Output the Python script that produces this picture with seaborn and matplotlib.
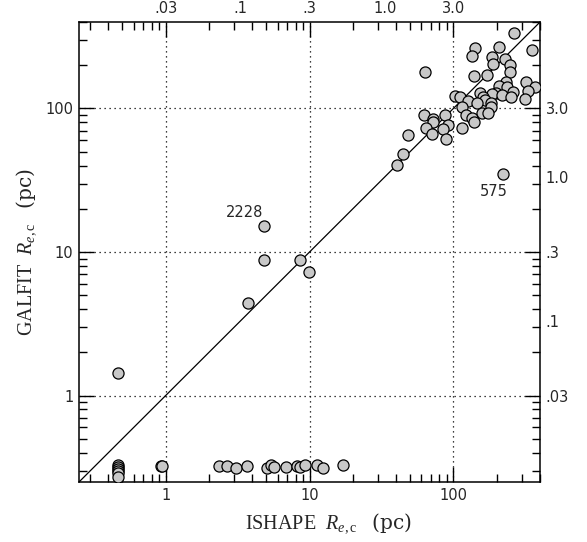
import numpy as np
import pandas as pd
import matplotlib
matplotlib.use("Agg")
import matplotlib.pyplot as plt
from matplotlib.ticker import NullLocator, FuncFormatter, LogLocator, NullFormatter
import seaborn as sns

# Effective radii (pc) of clusters measured by both methods
ishape_rec = [264, 351, 208, 141, 135, 184, 229, 187, 248, 249, 63, 171, 140, 317,
              232, 206, 367, 237, 328, 259, 154, 197, 185, 217, 250, 160, 103, 112,
              167, 312, 127, 145, 183, 115, 182, 158, 174, 123, 134, 139, 62.3, 71.6,
              71.9, 86.9, 91.6, 65.0, 84.1, 71.3, 115, 48.2, 88.2, 44.5, 40.4, 221,
              4.85, 4.85, 8.56, 9.98, 3.75, 0.47]
galfit_rec = [337, 256, 267, 262, 232, 227, 220, 205, 201, 179, 180, 171, 167, 154,
              154, 143, 142, 140, 132, 131, 129, 129, 127, 124, 121, 120, 122, 120,
              115, 116, 112, 109, 109, 102, 102, 92.6, 92.6, 90.1, 85.5, 80.9, 90.1, 84.1,
              80.5, 90.1, 76.7, 73.5, 72.0, 66.4, 72.8, 65.0, 61.3, 48.2, 40.2, 35.1,
              15.2, 8.80, 8.80, 7.29, 4.43, 1.43]

# Objects left unresolved by GALFIT (plotted at the lower limit)
ishape_unres = [0.465, 0.465, 0.465, 0.465, 0.465, 0.465, 0.93, 0.95,
                2.34, 2.65, 3.06, 3.69, 5.04, 5.37, 5.66, 6.87, 8.15, 8.6, 9.31,
                11.2, 12.5, 17.2]
galfit_unres = [0.328, 0.318, 0.307, 0.298, 0.288, 0.272, 0.323, 0.323,
                0.323, 0.323, 0.314, 0.323, 0.314, 0.328, 0.318, 0.318, 0.323, 0.318, 0.328,
                0.328, 0.314, 0.328]

# Named objects
label_ids = ["2228", "575"]
label_x = [4.85, 221]
label_y = [15.2, 35.1]

# Angular scale labels (arcsec) on the top and right axes
arcsec_ticks = [0.03, 0.1, 0.3, 1.0, 3.0]
arcsec_labels = [".03", ".1", ".3", "1.0", "3.0"]
PC_TO_ARCSEC = 0.03

sns.set_style("ticks")
plt.rcParams["font.family"] = ["DejaVu Sans"]
plt.rcParams["mathtext.fontset"] = "custom"
plt.rcParams["mathtext.rm"] = "Liberation Serif"
plt.rcParams["mathtext.it"] = "Liberation Serif:italic"
plt.rcParams["mathtext.sf"] = "DejaVu Serif"

df = pd.DataFrame({
    "ishape": ishape_rec + ishape_unres,
    "galfit": galfit_rec + galfit_unres,
})

fig = plt.figure(figsize=(5.87, 5.42), dpi=100)
ax = fig.add_axes([0.1346, 0.1107, 0.7854, 0.8487])
ax.set_xscale("log")
ax.set_yscale("log")
ax.set_xlim(0.25, 400)
ax.set_ylim(0.25, 400)

ax.grid(True, which="major", color="black", linestyle=(0, (1, 3)), linewidth=0.9)
ax.axline((1, 1), (100, 100), color="black", linewidth=0.9, zorder=2)

sns.scatterplot(data=df, x="ishape", y="galfit", ax=ax, s=64,
                color="#c8c8c8", edgecolor="black", linewidth=0.9, zorder=3,
                legend=False)

for name, x, y, off in zip(label_ids, label_x, label_y, [(-14, 9.5), (-6.5, -13)]):
    ax.annotate(name, (x, y), xytext=off, textcoords="offset points",
                ha="center", va="center", fontsize=10.5)

fmt = FuncFormatter(lambda v, p: f"{v:g}")
for axis in (ax.xaxis, ax.yaxis):
    axis.set_major_locator(LogLocator(base=10))
    axis.set_major_formatter(fmt)
    axis.set_minor_locator(LogLocator(base=10, subs=np.arange(2, 10)))
    axis.set_minor_formatter(NullFormatter())

ax.tick_params(which="both", direction="in", top=True, right=True,
               labelsize=10.5, width=1.0, color="black")
ax.tick_params(which="major", length=11, pad=4)
ax.tick_params(which="minor", length=6)
for sp in ax.spines.values():
    sp.set_linewidth(1.1)
    sp.set_color("black")

to_arc = (lambda v: v * PC_TO_ARCSEC, lambda v: v / PC_TO_ARCSEC)
secx = ax.secondary_xaxis("top", functions=to_arc)
secy = ax.secondary_yaxis("right", functions=to_arc)
for sec in (secx, secy):
    sec.tick_params(length=0, pad=4, labelsize=10.5)
    for sp in sec.spines.values():
        sp.set_visible(False)
secx.set_xticks(arcsec_ticks, arcsec_labels)
secy.set_yticks(arcsec_ticks, arcsec_labels)
secx.xaxis.set_minor_locator(NullLocator())
secy.yaxis.set_minor_locator(NullLocator())

label_font = dict(family="Liberation Serif", fontsize=14.5)
ax.set_xlabel("ISHAPE  " + r"$R_{e,\mathrm{c}}$" + "   " + r"$\mathsf{(pc)}$", **label_font)
ax.set_ylabel("GALFIT  " + r"$R_{e,\mathrm{c}}$" + "   " + r"$\mathsf{(pc)}$", **label_font)
ax.xaxis.set_label_coords(0.54, -0.064)
ax.yaxis.set_label_coords(-0.088, 0.5)

fig.savefig("out.png", dpi=100)
